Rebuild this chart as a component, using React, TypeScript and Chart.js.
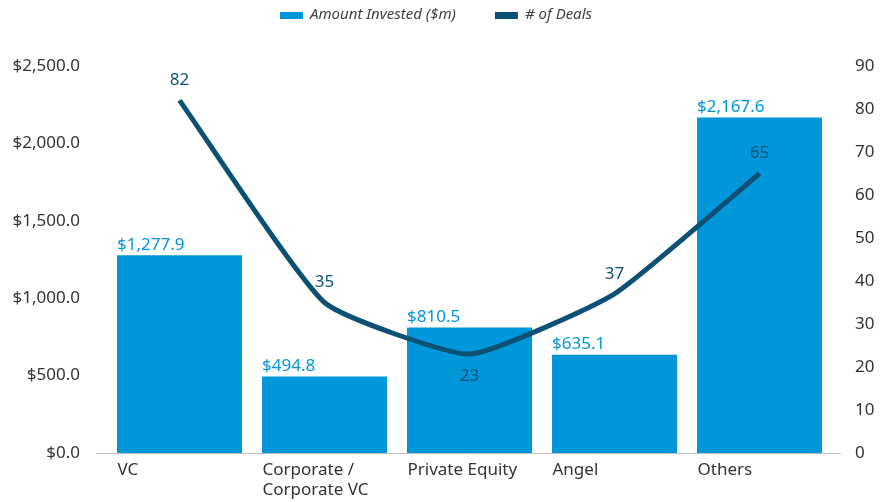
import React, { useEffect, useRef } from 'react';
import { Chart, registerables } from 'chart.js';

Chart.register(...registerables);

const categories: (string | string[])[] = ['VC', ['Corporate /', 'Corporate VC'], 'Private Equity', 'Angel', 'Others'];
const amountInvested = [1277.9, 494.8, 810.5, 635.1, 2167.6];
const dealCount = [82, 35, 23, 37, 65];
const dealLabelSide = ['above', 'above', 'below', 'above', 'above'];
const seriesNames = ['Amount Invested ($m)', '# of Deals'];

const BAR_COLOR = '#0096DA';
const LINE_COLOR = '#0C5173';
const TEXT_COLOR = '#333333';
const FONT = '"Noto Sans", sans-serif';

const money = (v: number) =>
  '$' + v.toLocaleString('en-US', { minimumFractionDigits: 1, maximumFractionDigits: 1 });

const extrasPlugin = {
  id: 'extras',
  afterDatasetsDraw(chart: any) {
    const ctx = chart.ctx;
    const area = chart.chartArea;
    ctx.save();
    // axis baseline
    ctx.strokeStyle = '#BFBFBF';
    ctx.lineWidth = 1;
    ctx.beginPath();
    ctx.moveTo(area.left - 11, Math.round(area.bottom) + 0.5);
    ctx.lineTo(area.right + 9, Math.round(area.bottom) + 0.5);
    ctx.stroke();

    // bar labels
    const barMeta = chart.getDatasetMeta(0);
    ctx.font = `17px ${FONT}`;
    ctx.fillStyle = BAR_COLOR;
    ctx.textAlign = 'left';
    ctx.textBaseline = 'bottom';
    barMeta.data.forEach((bar: any, i: number) => {
      ctx.fillText(money(amountInvested[i]), bar.x - bar.width / 2, bar.y - 2);
    });

    // line labels
    const lineMeta = chart.getDatasetMeta(1);
    ctx.fillStyle = LINE_COLOR;
    ctx.textAlign = 'center';
    ctx.textBaseline = 'middle';
    lineMeta.data.forEach((pt: any, i: number) => {
      const dy = dealLabelSide[i] === 'below' ? 22 : -20;
      ctx.fillText(String(dealCount[i]), pt.x, pt.y + dy);
    });

    // legend
    ctx.font = `italic 15px ${FONT}`;
    ctx.textAlign = 'left';
    ctx.textBaseline = 'middle';
    const colors = [BAR_COLOR, LINE_COLOR];
    const boxW = 23, gapText = 7, gapItem = 39;
    const widths = seriesNames.map((n) => boxW + gapText + ctx.measureText(n).width);
    const total = widths.reduce((a, b) => a + b, 0) + gapItem * (widths.length - 1);
    let x = chart.width / 2 - total / 2 - 6;
    const y = 15;
    seriesNames.forEach((n, i) => {
      ctx.fillStyle = colors[i];
      ctx.fillRect(x, y - 3, boxW, 7);
      ctx.fillStyle = '#404040';
      ctx.fillText(n, x + boxW + gapText, y);
      x += widths[i] + gapItem;
    });
    ctx.restore();
  },
};

export default function App() {
  const ref = useRef<HTMLCanvasElement>(null);
  useEffect(() => {
    document.body.style.margin = '0';
    const chart = new Chart(ref.current!, {
      type: 'bar',
      data: {
        labels: categories,
        datasets: [
          {
            type: 'bar',
            label: seriesNames[0],
            data: amountInvested,
            backgroundColor: BAR_COLOR,
            yAxisID: 'y',
            order: 2,
            categoryPercentage: 1,
            barPercentage: 0.862,
          },
          {
            type: 'line',
            label: seriesNames[1],
            data: dealCount,
            borderColor: LINE_COLOR,
            backgroundColor: LINE_COLOR,
            borderWidth: 5,
            pointRadius: 0,
            tension: 0.15,
            yAxisID: 'y1',
            order: 1,
          },
        ],
      },
      options: {
        responsive: false,
        animation: false,
        layout: { padding: { top: 66, left: 0, right: 0, bottom: 0 } },
        plugins: {
          legend: { display: false },
          tooltip: { enabled: false },
        },
        scales: {
          x: {
            grid: { display: false },
            border: { display: false },
            ticks: {
              color: TEXT_COLOR,
              font: { family: FONT, size: 17 },
              align: 'start',
              labelOffset: -62,
              padding: -1,
              maxRotation: 0,
              autoSkip: false,
            },
            afterFit: (s: any) => { s.height = 49; },
          },
          y: {
            position: 'left',
            min: 0,
            max: 2500,
            grid: { display: false, drawTicks: false },
            border: { display: false },
            ticks: {
              stepSize: 500,
              color: TEXT_COLOR,
              font: { family: FONT, size: 17 },
              padding: 27,
              callback: (v: any) => money(Number(v)),
            },
            afterFit: (s: any) => { s.width = 107; },
          },
          y1: {
            position: 'right',
            min: 0,
            max: 90,
            grid: { display: false, drawTicks: false },
            border: { display: false },
            ticks: {
              stepSize: 10,
              color: TEXT_COLOR,
              font: { family: FONT, size: 17 },
              padding: 23,
            },
            afterFit: (s: any) => { s.width = 52; },
          },
        },
      },
      plugins: [extrasPlugin],
    });
    return () => chart.destroy();
  }, []);
  return (
    <div style={{ width: 884, height: 502 }}>
      <canvas ref={ref} width={884} height={502} style={{ display: 'block' }} />
    </div>
  );
}
